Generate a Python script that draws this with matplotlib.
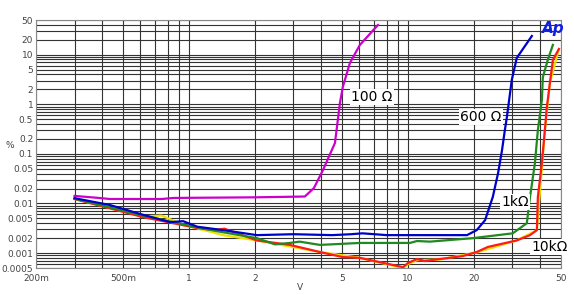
import numpy as np
import matplotlib.pyplot as plt
from matplotlib.ticker import FixedLocator, NullFormatter

# ---- data (V, %) ----
v_100 = [0.3, 0.39, 0.435, 0.75, 0.845, 1.0, 2.0, 3.38, 3.72, 4.09, 4.64, 4.89, 5.04, 5.43, 6.03, 7.29]
thd_100 = [0.0142, 0.0129, 0.0123, 0.0123, 0.0129, 0.013, 0.0133, 0.0138, 0.0205, 0.047, 0.166, 1.06, 2.23, 6.8, 15.7, 39.6]

v_600 = [0.3, 0.435, 0.617, 0.82, 0.94, 1.09, 1.43, 2.04, 3.0, 4.5, 5.5, 6.2, 8.0, 12.0, 18.6, 20.6, 22.5, 24.4, 25.8, 26.9, 27.7, 28.3, 29.8, 31.4, 36.8]
thd_600 = [0.0128, 0.0093, 0.0059, 0.0042, 0.0044, 0.0034, 0.0029, 0.0023, 0.0024, 0.0023, 0.0024, 0.0025, 0.0023, 0.0023, 0.0023, 0.0029, 0.0046, 0.0135, 0.041, 0.12, 0.30, 0.55, 3.1, 8.6, 23.8]

v_1k = [0.3, 0.617, 1.09, 1.38, 2.04, 2.27, 2.47, 2.89, 3.2, 3.96, 6.03, 10.2, 11.0, 12.6, 19.8, 30.1, 34.9, 36.1, 38.0, 39.2, 40.9, 41.3, 43.5, 45.9]
thd_1k = [0.0125, 0.0057, 0.0033, 0.0027, 0.0020, 0.0017, 0.0015, 0.0016, 0.0017, 0.00146, 0.0016, 0.0016, 0.00175, 0.0017, 0.0020, 0.0025, 0.0040, 0.0135, 0.065, 0.30, 1.22, 3.5, 7.8, 15.7]

v_10k = [0.3, 0.617, 1.09, 1.3, 1.45, 2.04, 2.89, 3.96, 5.04, 6.03, 9.5, 10.0, 11.0, 11.9, 14.0, 15.1, 17.8, 20.6, 23.2, 31.4, 36.1, 38.8, 39.2, 40.9, 42.2, 43.1, 44.5, 45.9, 48.9]
thd_10k = [0.0123, 0.0053, 0.0032, 0.0029, 0.0031, 0.0018, 0.00146, 0.00105, 0.00083, 0.0008, 0.00052, 0.00063, 0.00076, 0.00069, 0.00076, 0.00079, 0.00087, 0.00105, 0.00133, 0.0018, 0.0023, 0.0029, 0.0135, 0.065, 0.30, 0.88, 2.7, 7.8, 13.0]

v_yel = [0.3, 0.617, 0.75, 0.94, 1.25, 1.43, 2.04, 3.96, 6.03, 9.5, 10.0, 11.0, 14.0, 20.6, 31.4, 38.8, 42.2, 44.5, 48.9]
thd_yel = [0.0123, 0.0055, 0.0057, 0.0037, 0.0027, 0.0023, 0.0018, 0.00105, 0.0008, 0.0005, 0.0006, 0.00072, 0.00074, 0.00103, 0.0018, 0.0029, 0.30, 2.7, 13.0]

x_ticks = [0.2, 0.5, 1, 2, 5, 10, 20, 50]
x_labels = ['200m', '500m', '1', '2', '5', '10', '20', '50']
y_ticks = [0.0005, 0.001, 0.002, 0.005, 0.01, 0.02, 0.05, 0.1, 0.2, 0.5, 1, 2, 5, 10, 20, 50]
y_labels = ['0.0005', '0.001', '0.002', '0.005', '0.01', '0.02', '0.05', '0.1', '0.2',
            '0.5', '1', '2', '5', '10', '20', '50']

fig = plt.figure(figsize=(5.74, 2.95), dpi=100)
ax = fig.add_axes([36 / 574, 27 / 295, 525 / 574, 248 / 295])
ax.set_xscale('log')
ax.set_yscale('log')
ax.set_xlim(0.2, 50)
ax.set_ylim(0.0005, 50)

lw = 1.6
ax.plot(v_yel, thd_yel, color='#f0e000', lw=lw)
ax.plot(v_100, thd_100, color='#cc00cc', lw=lw)
ax.plot(v_10k, thd_10k, color='#ff1a1a', lw=lw)
ax.plot(v_1k, thd_1k, color='#1f8a1f', lw=lw)
ax.plot(v_600, thd_600, color='#0000cc', lw=lw)

# grid on every 1..9 multiple
minors = []
for d in [0.1, 1, 10]:
    minors += [k * d for k in range(1, 10)]
ax.xaxis.set_minor_locator(FixedLocator([m for m in minors if 0.2 <= m <= 50]))
ymin = []
for d in [0.0001, 0.001, 0.01, 0.1, 1, 10]:
    ymin += [k * d for k in range(1, 10)]
ax.yaxis.set_minor_locator(FixedLocator([m for m in ymin if 0.0005 <= m <= 50]))
ax.xaxis.set_minor_formatter(NullFormatter())
ax.yaxis.set_minor_formatter(NullFormatter())
ax.set_xticks(x_ticks)
ax.set_xticklabels(x_labels)
ax.set_yticks(y_ticks)
ax.set_yticklabels(y_labels)
ax.grid(True, which='both', color='#333333', lw=0.8)
ax.set_axisbelow(True)
ax.tick_params(which='both', length=0, labelsize=6.5, colors='#444444')
ax.tick_params(axis='x', pad=4)
ax.tick_params(axis='y', pad=2)
for s in ax.spines.values():
    s.set_color('#888888')
    s.set_linewidth(0.8)

fig.text(5 / 574, 1 - 145 / 295, '%', fontsize=6.5, color='#444444', ha='left', va='center')
fig.text(300 / 574, 1 - 287 / 295, 'V', fontsize=6.5, color='#444444', ha='center', va='center')

box = dict(facecolor='white', edgecolor='none', pad=1)
fig.text(372 / 574, 1 - 97 / 295, '100 Ω', fontsize=10, ha='center', va='center', bbox=box)
fig.text(481 / 574, 1 - 117 / 295, '600 Ω', fontsize=10, ha='center', va='center', bbox=box)
fig.text(515 / 574, 1 - 202 / 295, '1kΩ', fontsize=10, ha='center', va='center', bbox=box)
fig.text(550 / 574, 1 - 247 / 295, '10kΩ', fontsize=10, ha='center', va='center', bbox=box)
fig.text(553 / 574, 1 - 28 / 295, 'Ap', fontsize=11, color='#1020e0', fontweight='bold',
         fontstyle='italic', ha='center', va='center')

fig.savefig('out.png', dpi=100)
